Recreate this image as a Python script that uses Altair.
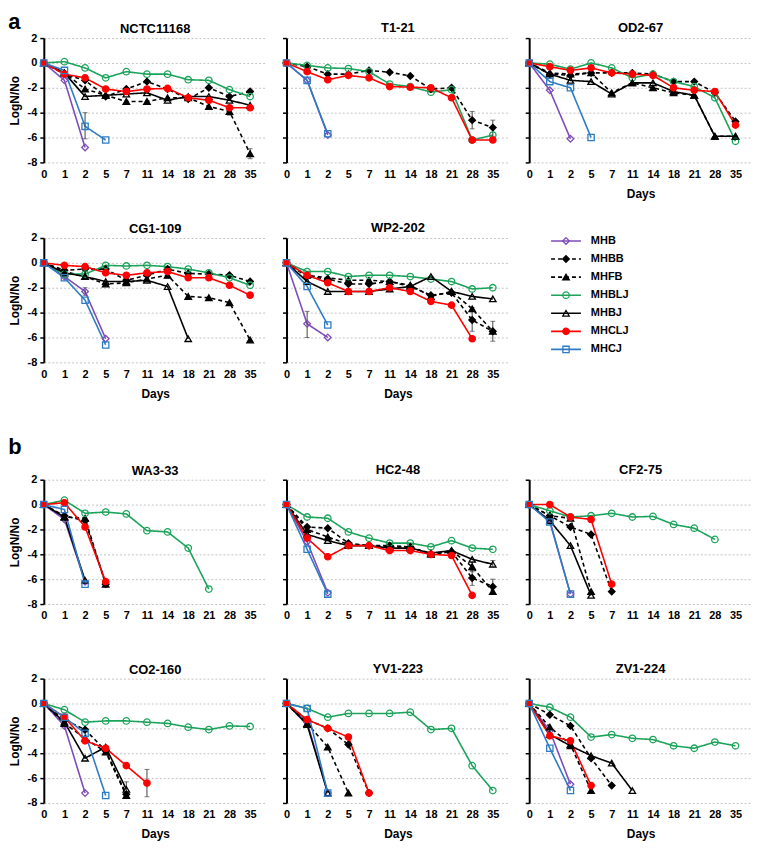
import altair as alt
import pandas as pd

DAYS = ["0", "1", "2", "5", "7", "11", "14", "18", "21", "28", "35"]
SERIES = ["MHB", "MHBB", "MHFB", "MHBLJ", "MHBJ", "MHCLJ", "MHCJ"]
COLORS = ["#7E4DB8", "#000000", "#000000", "#1BA35A", "#000000", "#FF0000", "#2E7CC4"]
FILLS = ["transparent", "#000000", "#000000", "transparent", "transparent", "#FF0000", "transparent"]
SHAPES = ["diamond", "diamond", "triangle-up", "circle", "triangle-up", "circle", "square"]
DASHES = [[1, 0], [4, 3], [4, 3], [1, 0], [1, 0], [1, 0], [1, 0]]
SIZES = [45, 40, 45, 50, 45, 80, 40]

NCTC11168 = {
    "MHB": [0, -1.4, -6.8],
    "MHBB": [0, -0.9, -1.4, -2.7, -2.1, -1.5, -2.1, -2.9, -2.0, -2.7, -2.3],
    "MHFB": [0, -0.8, -2.1, -2.6, -3.1, -3.1, -2.8, -2.8, -3.5, -3.9, -7.3],
    "MHBLJ": [0, 0.1, -0.4, -1.2, -0.7, -0.9, -0.9, -1.35, -1.4, -2.15, -2.7],
    "MHBJ": [0, -0.8, -2.7, -2.6, -2.5, -2.4, -3.0, -2.7, -2.7, -3.0, -3.4],
    "MHCLJ": [0, -0.9, -1.2, -2.1, -2.3, -2.1, -2.05, -2.8, -3.0, -3.6, -3.6],
    "MHCJ": [0, -0.6, -5.1, -6.2],
}
T1_21 = {
    "MHB": [0, -1.4, -5.8],
    "MHBB": [0, -0.3, -0.9, -0.9, -0.6, -0.75, -1.05, -2.1, -2.0, -4.6, -5.2],
    "MHBLJ": [0, -0.2, -0.4, -0.45, -0.7, -1.7, -1.9, -2.35, -2.15, -6.2, -5.8],
    "MHCLJ": [0, -0.7, -1.35, -1.0, -1.2, -1.9, -1.95, -2.0, -2.8, -6.2, -6.2],
    "MHCJ": [0, -1.4, -5.7],
}
OD2_67 = {
    "MHB": [0, -2.2, -6.1],
    "MHBB": [0, -0.9, -1.0, -0.8, -0.8, -0.8, -0.9, -1.5, -1.5, -2.4, -4.7],
    "MHFB": [0, -0.8, -0.9, -0.8, -2.4, -1.6, -2.0, -2.4, -2.6, -5.9, -5.9],
    "MHBLJ": [0, -0.1, -0.5, 0.0, -0.4, -1.2, -0.9, -1.5, -1.9, -2.8, -6.3],
    "MHBJ": [0, -0.9, -1.4, -1.5, -2.5, -1.6, -1.6, -2.3, -2.6, -5.9, -5.9],
    "MHCLJ": [0, -0.3, -0.6, -0.4, -0.8, -0.9, -1.0, -2.0, -2.2, -2.3, -5.0],
    "MHCJ": [0, -1.5, -2.0, -6.0],
}
CG1_109 = {
    "MHB": [0, -1.1, -2.3, -6.1],
    "MHBB": [0, -0.6, -0.5, -0.5, -1.4, -1.0, -0.5, -0.85, -0.9, -1.0, -1.5],
    "MHFB": [0, -0.7, -1.1, -1.7, -1.6, -1.3, -1.0, -2.7, -2.8, -3.2, -6.2],
    "MHBLJ": [0, -0.9, -0.9, -0.2, -0.25, -0.2, -0.3, -0.5, -0.8, -1.2, -1.8],
    "MHBJ": [0, -0.8, -1.1, -1.5, -1.5, -1.4, -1.9, -6.1],
    "MHCLJ": [0, -0.2, -0.3, -0.8, -1.0, -0.8, -0.7, -1.2, -1.2, -1.8, -2.6],
    "MHCJ": [0, -1.2, -3.0, -6.6],
}
WP2_202 = {
    "MHB": [0, -4.9, -6.0],
    "MHBB": [0, -1.1, -1.3, -1.7, -1.7, -1.5, -1.9, -2.6, -2.4, -4.6, -5.5],
    "MHFB": [0, -1.0, -1.2, -1.4, -1.4, -1.5, -1.8, -2.7, -2.3, -3.7, -5.5],
    "MHBLJ": [0, -0.7, -0.7, -1.1, -1.0, -1.0, -1.1, -1.3, -1.5, -2.1, -2.0],
    "MHBJ": [0, -1.5, -2.3, -2.3, -2.3, -2.1, -1.9, -1.1, -2.3, -2.7, -2.9],
    "MHCLJ": [0, -1.0, -1.6, -2.3, -2.3, -2.0, -2.3, -3.1, -3.4, -6.1],
    "MHCJ": [0, -1.9, -5.0],
}
WA3_33 = {
    "MHB": [0, -1.2, -6.2],
    "MHBB": [0, -0.9, -1.3, -6.4],
    "MHFB": [0, -1.0, -1.1, -6.4],
    "MHBLJ": [0, 0.35, -0.7, -0.6, -0.75, -2.1, -2.2, -3.5, -6.8],
    "MHBJ": [0, -1.0, -6.1],
    "MHCLJ": [0, 0.15, -1.8, -6.2],
    "MHCJ": [0, -0.4, -6.4],
}
HC2_48 = {
    "MHB": [0, -3.0, -7.1],
    "MHBB": [0, -1.8, -1.9, -3.1, -3.3, -3.3, -3.4, -4.0, -3.8, -5.9, -6.6],
    "MHFB": [0, -2.0, -2.6, -3.2, -3.3, -3.4, -3.4, -4.0, -3.7, -5.0, -7.0],
    "MHBLJ": [0, -1.0, -1.1, -2.2, -2.7, -3.1, -3.1, -3.4, -2.9, -3.5, -3.6],
    "MHBJ": [0, -2.4, -2.9, -3.3, -3.3, -3.5, -3.5, -3.9, -3.7, -4.4, -4.8],
    "MHCLJ": [0, -2.7, -4.2, -3.3, -3.3, -3.7, -3.7, -4.0, -4.1, -7.3],
    "MHCJ": [0, -3.6, -7.2],
}
CF2_75 = {
    "MHB": [0, -1.3, -7.2],
    "MHBB": [0, -0.9, -1.8, -2.4, -7.0],
    "MHFB": [0, -0.9, -1.1, -7.0],
    "MHBLJ": [0, -0.5, -1.0, -0.9, -0.7, -1.0, -0.95, -1.6, -1.9, -2.8],
    "MHBJ": [0, -1.3, -3.3, -7.3],
    "MHCLJ": [0, 0.0, -1.0, -1.2, -6.4],
    "MHCJ": [0, -1.4, -7.2],
}
CO2_160 = {
    "MHB": [0, -1.8, -7.2],
    "MHBB": [0, -1.3, -2.1, -3.8, -7.3],
    "MHFB": [0, -1.6, -2.8, -3.9, -7.4],
    "MHBLJ": [0, -0.5, -1.5, -1.4, -1.4, -1.5, -1.6, -1.9, -2.1, -1.8, -1.85],
    "MHBJ": [0, -1.5, -4.4, -3.5, -6.9],
    "MHCLJ": [0, -1.1, -3.0, -3.6, -5.0, -6.4],
    "MHCJ": [0, -1.1, -2.4, -7.4],
}
YV1_223 = {
    "MHB": [0, -1.5, -7.2],
    "MHBB": [0, -1.3, -2.0, -3.3, -7.2],
    "MHFB": [0, -1.6, -3.5, -7.2],
    "MHBLJ": [0, -0.4, -1.1, -0.8, -0.8, -0.8, -0.7, -2.1, -2.0, -5.0, -7.0],
    "MHBJ": [0, -1.7, -7.2],
    "MHCLJ": [0, -1.3, -2.0, -2.7, -7.2],
    "MHCJ": [0, -0.4, -7.2],
}
ZV1_224 = {
    "MHB": [0, -2.2, -6.5],
    "MHBB": [0, -0.9, -1.8, -4.4, -6.6],
    "MHFB": [0, -1.9, -3.3, -7.0],
    "MHBLJ": [0, -0.3, -1.1, -2.7, -2.5, -2.8, -2.9, -3.4, -3.6, -3.1, -3.4],
    "MHBJ": [0, -2.5, -3.4, -4.2, -4.8, -7.0],
    "MHCLJ": [0, -2.6, -3.0, -6.6],
    "MHCJ": [0, -3.6, -7.0],
}

ERR_STRAIN = ["NCTC11168", "NCTC11168", "NCTC11168", "T1-21", "T1-21", "WP2-202", "WP2-202",
              "WP2-202", "HC2-48", "HC2-48", "HC2-48", "HC2-48", "CO2-160", "CO2-160", "CG1-109"]
ERR_SERIES = ["MHCJ", "MHFB", "MHFB", "MHBB", "MHBB", "MHB", "MHBB",
              "MHBB", "MHBB", "MHBB", "MHFB", "MHBJ", "MHCLJ", "MHBJ", "MHB"]
ERR_DAY = ["2", "35", "28", "28", "35", "1", "28", "35", "28", "35", "28", "35", "11", "7", "2"]
ERR_LO = [-6.1, -7.7, -4.2, -5.3, -5.9, -6.0, -5.5, -6.3, -6.5, -7.2, -5.4, -5.0, -7.5, -7.3, -2.6]
ERR_HI = [-4.0, -6.9, -3.6, -3.9, -4.6, -3.9, -3.6, -4.7, -5.3, -6.0, -4.6, -4.5, -5.3, -6.3, -2.0]

STRAINS = {
    "NCTC11168": NCTC11168, "T1-21": T1_21, "OD2-67": OD2_67,
    "CG1-109": CG1_109, "WP2-202": WP2_202,
    "WA3-33": WA3_33, "HC2-48": HC2_48, "CF2-75": CF2_75,
    "CO2-160": CO2_160, "YV1-223": YV1_223, "ZV1-224": ZV1_224,
}

rows = []
for strain, d in STRAINS.items():
    for s in SERIES:
        if s not in d:
            continue
        for day, v in zip(DAYS, d[s]):
            rows.append({"strain": strain, "series": s, "day": day, "value": v})
df = pd.DataFrame(rows)
err = pd.DataFrame({"strain": ERR_STRAIN, "series": ERR_SERIES, "day": ERR_DAY,
                    "lo": ERR_LO, "hi": ERR_HI})

FONT = "Liberation Sans"
W, H = 224, 125

color_sc = alt.Scale(domain=SERIES, range=COLORS)
fill_sc = alt.Scale(domain=SERIES, range=FILLS)
shape_sc = alt.Scale(domain=SERIES, range=SHAPES)
dash_sc = alt.Scale(domain=SERIES, range=DASHES)
size_sc = alt.Scale(domain=SERIES, range=SIZES)


def panel(strain, col, xtitle):
    sub = df[df.strain == strain]
    esub = err[err.strain == strain]
    xscale = alt.Scale(domain=DAYS, type="point", padding=0.4, align=0)
    xaxis = alt.Axis(title="Days" if xtitle else None, labelAngle=0, domain=False,
                     ticks=False, grid=False, labelFontWeight="bold", labelFontSize=11,
                     labelPadding=6, labelOverlap=False, titlePadding=9,
                     titleFontSize=12, titleFontWeight="bold", labelColor="black")
    x = alt.X("day:O", sort=DAYS, scale=xscale, axis=xaxis)
    yaxis = dict(values=[-8, -6, -4, -2, 0, 2], grid=True, gridDash=[2, 2],
                 gridColor="#c4c4c4", domain=True, domainColor="black", domainWidth=2,
                 ticks=True, tickColor="black", tickSize=4, tickWidth=1.5,
                 labels=(col == 0), labelFontWeight="bold", labelFontSize=11,
                 labelPadding=3, labelExpr="'' + datum.value", labelColor="black",
                 labelOverlap=False, labelFlush=False, labelBound=False,
                 titleFontSize=12, titleFontWeight="bold", titlePadding=6)
    yaxis["title"] = "LogN/No" if col == 0 else None
    yscale = alt.Scale(domain=[-8, 2], nice=False)
    y = alt.Y("value:Q", scale=yscale, axis=alt.Axis(**yaxis))
    base = alt.Chart(sub)
    lines = base.mark_line(strokeWidth=1.6).encode(
        x=x, y=y,
        color=alt.Color("series:N", scale=color_sc, legend=None),
        strokeDash=alt.StrokeDash("series:N", scale=dash_sc, legend=None),
    )
    ebase = alt.Chart(esub)
    ebar = ebase.mark_rule(color="#444", strokeWidth=1).encode(
        x=x, y=alt.Y("lo:Q", scale=yscale, axis=alt.Axis(**yaxis)), y2="hi:Q")
    cap_lo = ebase.mark_tick(color="#444", size=5, thickness=1).encode(
        x=x, y=alt.Y("lo:Q", scale=yscale, axis=alt.Axis(**yaxis)))
    cap_hi = ebase.mark_tick(color="#444", size=5, thickness=1).encode(
        x=x, y=alt.Y("hi:Q", scale=yscale, axis=alt.Axis(**yaxis)))
    pts = base.mark_point(filled=True, opacity=1, strokeWidth=1.3).encode(
        x=x, y=y,
        shape=alt.Shape("series:N", scale=shape_sc, legend=None),
        fill=alt.Fill("series:N", scale=fill_sc, legend=None),
        stroke=alt.Stroke("series:N", scale=color_sc, legend=None),
        size=alt.Size("series:N", scale=size_sc, legend=None),
    )
    layers = [lines]
    if len(esub):
        layers += [ebar, cap_lo, cap_hi]
    layers.append(pts)
    return alt.layer(*layers).properties(
        width=W, height=H,
        title=alt.TitleParams(strain, fontSize=13, fontWeight="bold", font=FONT,
                              offset=(-4 if col == 0 else 2), color="black"))


leg_df = pd.DataFrame({"series": SERIES})
lbase = alt.Chart(leg_df).encode(
    y=alt.Y("series:N", sort=SERIES,
            scale=alt.Scale(type="point", domain=SERIES, range=[3, 112], padding=0),
            axis=None))
lrule = lbase.mark_rule(strokeWidth=1.6).encode(
    x=alt.value(28), x2=alt.value(58),
    color=alt.Color("series:N", scale=color_sc, legend=None),
    strokeDash=alt.StrokeDash("series:N", scale=dash_sc, legend=None))
lpts = lbase.mark_point(filled=True, opacity=1, strokeWidth=1.3).encode(
    x=alt.value(43),
    shape=alt.Shape("series:N", scale=shape_sc, legend=None),
    fill=alt.Fill("series:N", scale=fill_sc, legend=None),
    stroke=alt.Stroke("series:N", scale=color_sc, legend=None),
    size=alt.Size("series:N", scale=size_sc, legend=None))
ltxt = lbase.mark_text(align="left", baseline="middle", fontWeight="bold", fontSize=11,
                       font=FONT, color="black").encode(x=alt.value(68), text="series:N")
legend_chart = alt.layer(lrule, lpts, ltxt).properties(width=W, height=H)

SP = 14
rowA1 = alt.hconcat(panel("NCTC11168", 0, False), panel("T1-21", 1, False),
                    panel("OD2-67", 2, True), spacing=SP)
rowA2 = alt.hconcat(panel("CG1-109", 0, True), panel("WP2-202", 1, True),
                    legend_chart, spacing=SP)
rowB1 = alt.hconcat(panel("WA3-33", 0, False), panel("HC2-48", 1, False),
                    panel("CF2-75", 2, False), spacing=SP)
rowB2 = alt.hconcat(panel("CO2-160", 0, True), panel("YV1-223", 1, True),
                    panel("ZV1-224", 2, True), spacing=SP)

secA = alt.vconcat(rowA1, rowA2, spacing=23,
                   title=alt.TitleParams("a", anchor="start", fontSize=22, fontWeight="bold",
                                         font=FONT, offset=-12, color="black"))
secB = alt.vconcat(rowB1, rowB2, spacing=42,
                   title=alt.TitleParams("b", anchor="start", fontSize=22, fontWeight="bold",
                                         font=FONT, offset=5, color="black"))

chart = alt.vconcat(secA, secB, spacing=37).properties(
    padding={"top": 1, "left": 0, "right": 0, "bottom": 0}
).configure_view(
    stroke=None
).configure_axis(labelFont=FONT, titleFont=FONT).configure_title(font=FONT)

chart.save("out.html", embed_options={"renderer": "svg", "actions": False})
